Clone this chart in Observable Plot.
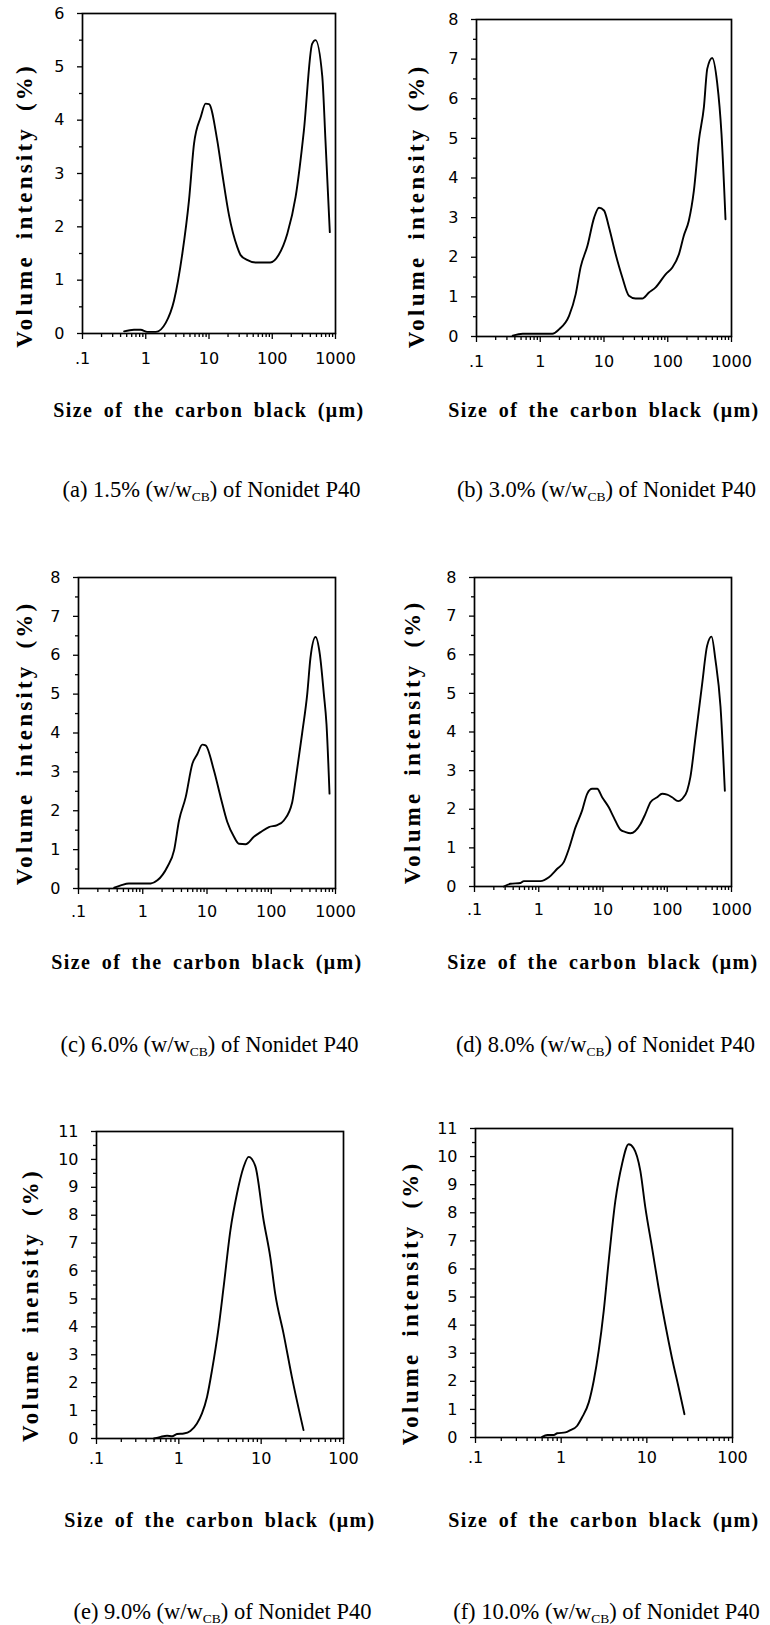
<!DOCTYPE html>
<html><head><meta charset="utf-8">
<script src="https://cdn.jsdelivr.net/npm/d3@7"></script>
<script src="https://cdn.jsdelivr.net/npm/@observablehq/plot@0.6"></script>
<style>
body{margin:0;background:#fff;}
#root{position:relative;width:770px;height:1625px;background:#fff;overflow:hidden}
.panel{position:absolute;overflow:visible}
.cap{position:absolute;font-family:"Liberation Serif","Times New Roman",serif;font-size:22.5px;color:#000;white-space:nowrap;transform:translate(-50%,-50%);line-height:1}
.cap sub{font-size:0.6em;vertical-align:baseline;position:relative;top:0.28em}
</style></head><body><div id="root"></div>
<script>
// ---------- data ----------
const xTicks3 = [0.1, 1, 10, 100, 1000];
const xTickLabels3 = [".1", "1", "10", "100", "1000"];
const xTicks2 = [0.1, 1, 10, 100];
const xTickLabels2 = [".1", "1", "10", "100"];

const sizeA = [0.455,0.65,0.83,1.06,1.44,2.07,2.8,3.79,4.83,5.8,7.4,8.85,10,13.5,16.2,20.7,28,31.6,40,54.6,93,126,173,234,316,427,483,617,694,813];
const intensityA = [0.04,0.07,0.07,0.03,0.03,0.2,0.62,1.5,2.5,3.56,4.06,4.31,4.3,3.62,3.0,2.22,1.62,1.47,1.38,1.33,1.33,1.47,1.87,2.56,3.8,5.43,5.5,4.83,3.62,1.9];

const sizeB = [0.37,0.53,1.55,1.97,2.83,3.6,4.3,5.5,7.0,8.35,10,12,15.2,19.4,24.6,31.3,39.8,50.7,64.6,92.5,118,150,179,214,257,308,369,417,498,596,697,805];
const intensityB = [0.02,0.07,0.07,0.18,0.52,1.07,1.75,2.29,3.0,3.25,3.18,2.75,2.08,1.49,1.03,0.96,0.96,1.11,1.24,1.57,1.74,2.08,2.55,2.92,3.68,4.95,5.79,6.76,7.03,6.4,5.11,2.96];

const sizeC = [0.36,0.455,0.61,1.33,1.69,2.42,3.07,3.67,4.66,5.92,7.08,8.46,9.5,12.8,16.3,20.7,26.3,31.4,39.8,53.7,68.2,92,124,157,212,239,303,363,408,489,570,659,724,807];
const intensityC = [0.02,0.08,0.13,0.13,0.21,0.56,0.98,1.75,2.35,3.21,3.46,3.7,3.68,3.04,2.35,1.71,1.33,1.15,1.14,1.33,1.45,1.58,1.63,1.75,2.22,2.78,4.0,5.0,5.94,6.47,6.03,5.0,4.23,2.44];

const sizeD = [0.286,0.363,0.52,0.586,1.06,1.44,1.94,2.45,2.94,3.73,4.74,5.67,6.78,8.1,9.7,12.3,14.7,18.7,22.4,26.8,38.4,45.7,54.8,69.6,83.3,99.7,119,148,171,204,229,275,349,417,489,563,674,788];
const intensityD = [0,0.07,0.09,0.14,0.14,0.24,0.46,0.63,0.97,1.53,1.97,2.4,2.53,2.53,2.31,2.05,1.79,1.47,1.41,1.38,1.62,1.88,2.18,2.31,2.4,2.38,2.31,2.21,2.27,2.48,2.83,3.86,5.24,6.23,6.47,5.86,4.66,2.48];

const sizeE = [0.5,0.6,0.72,0.83,0.95,1.15,1.38,1.66,1.91,2.2,2.53,3.05,3.5,4.23,5.08,6.12,7.05,8.49,10.7,12.9,14.8,18.7,23.6,32.7];
const intensityE = [0,0.06,0.1,0.08,0.16,0.18,0.27,0.54,0.9,1.49,2.45,4.0,5.43,7.46,8.77,9.73,10.09,9.76,7.82,6.5,5.19,3.76,2.21,0.3];

const sizeF = [0.6,0.69,0.82,0.9,1.12,1.28,1.53,1.75,2.1,2.4,2.74,3.14,3.59,4.29,5.13,6.13,7.02,8.4,9.6,11.5,13.7,16.4,19.6,23.5,27.5];
const intensityF = [0.02,0.09,0.09,0.15,0.18,0.26,0.41,0.71,1.25,2.02,3.08,4.51,6.29,8.42,9.73,10.44,10.3,9.49,8.19,6.76,5.34,4.03,2.85,1.78,0.83];

const xTitle = "Size of the carbon black (\u03bcm)";
const yTitles = ["Volume intensity (%)", "Volume intensity (%)", "Volume intensity (%)", "Volume intensity (%)", "Volume inensity (%)", "Volume intensity (%)"];
const captionLetters = ["(a)", "(b)", "(c)", "(d)", "(e)", "(f)"];
const captionPercents = ["1.5%", "3.0%", "6.0%", "8.0%", "9.0%", "10.0%"];
const yMaxes = [6, 8, 8, 8, 11, 11];

// ---------- layout ----------
const panels = [
  {x: sizeA, y: intensityA, ticks: xTicks3, labels: xTickLabels3, left: 0,   svgTop: 0,    frame: {l: 82,  r: 335, t: 13,   b: 333},  titleY: 410,  capY: 490,  yTitleX: 24,  yTitleDy: 32, labPad: 13},
  {x: sizeB, y: intensityB, ticks: xTicks3, labels: xTickLabels3, left: 385, svgTop: 0,    frame: {l: 476, r: 731, t: 19,   b: 336},  titleY: 410,  capY: 490,  yTitleX: 416, yTitleDy: 28, labPad: 13},
  {x: sizeC, y: intensityC, ticks: xTicks3, labels: xTickLabels3, left: 0,   svgTop: 520,  frame: {l: 78,  r: 335, t: 577,  b: 888},  titleY: 962,  capY: 1045, yTitleX: 24,  yTitleDy: 10, labPad: 11},
  {x: sizeD, y: intensityD, ticks: xTicks3, labels: xTickLabels3, left: 385, svgTop: 520,  frame: {l: 474, r: 731, t: 577,  b: 886},  titleY: 962,  capY: 1045, yTitleX: 412, yTitleDy: 10, labPad: 11},
  {x: sizeE, y: intensityE, ticks: xTicks2, labels: xTickLabels2, left: 0,   svgTop: 1060, frame: {l: 96,  r: 343, t: 1131, b: 1438}, titleY: 1520, capY: 1612, yTitleX: 30,  yTitleDy: 20, labPad: 8},
  {x: sizeF, y: intensityF, ticks: xTicks2, labels: xTickLabels2, left: 385, svgTop: 1060, frame: {l: 475, r: 732, t: 1128, b: 1437}, titleY: 1520, capY: 1612, yTitleX: 410, yTitleDy: 20, labPad: 8}
];

const root = document.getElementById("root");

panels.forEach((p, i) => {
  const W = 385;
  const height = p.titleY + 18 - p.svgTop;
  const marginLeft = p.frame.l - p.left;
  const marginRight = W - (p.frame.r - p.left);
  const marginTop = p.frame.t - p.svgTop;
  const marginBottom = height - (p.frame.b - p.svgTop);
  const data = p.x.map((v, k) => ({size: v, val: p.y[k]}));
  const yMax = yMaxes[i];
  const yMajor = d3.range(0, yMax + 0.001, 1);
  const yMinor = d3.range(0.5, yMax, 1);
  const xMinor = [];
  for (let k = 0; k < p.ticks.length - 1; k++) for (let m = 2; m <= 9; m++) xMinor.push(p.ticks[k] * m);
  const labelMap = new Map(p.ticks.map((t, k) => [t, p.labels[k]]));
  const chart = Plot.plot({
    width: W, height, marginLeft, marginRight, marginTop, marginBottom,
    style: {fontFamily: "'DejaVu Sans', sans-serif", fontSize: "16px", color: "#000", background: "transparent", overflow: "visible"},
    x: {type: "log", domain: [p.ticks[0], p.ticks[p.ticks.length - 1]]},
    y: {domain: [0, yMax]},
    marks: [
      Plot.axisY(yMinor, {tickSize: 3, tickFormat: () => "", label: null, strokeWidth: 1.3}),
      Plot.axisY(yMajor, {tickSize: 5, tickPadding: 13, tickFormat: d => String(d), label: null, strokeWidth: 1.3, fontSize: 16}),
      Plot.axisX(xMinor, {tickSize: 4, tickFormat: () => "", label: null, strokeWidth: 1.3}),
      Plot.axisX(p.ticks, {tickSize: 6, tickPadding: p.labPad, tickFormat: d => labelMap.get(d), label: null, strokeWidth: 1.3, fontSize: 16}),
      Plot.frame({stroke: "#000", strokeWidth: 1.7}),
      Plot.line(data, {x: "size", y: "val", stroke: "#000", strokeWidth: 1.9, curve: "monotone-x"}),
      Plot.text([xTitle], {frameAnchor: "bottom", lineAnchor: "middle", textAnchor: "middle", dy: p.titleY - p.frame.b, fontFamily: "'Liberation Serif', serif", fontWeight: "bold", fontSize: 20, fill: "#000"}),
      Plot.text([yTitles[i]], {frameAnchor: "left", lineAnchor: "middle", textAnchor: "middle", rotate: -90, dx: -(p.frame.l - p.yTitleX), dy: p.yTitleDy, fontFamily: "'Liberation Serif', serif", fontWeight: "bold", fontSize: 23, fill: "#000"})
    ]
  });
  chart.classList.add("panel");
  chart.style.left = p.left + "px";
  chart.style.top = p.svgTop + "px";
  chart.querySelectorAll("text").forEach(t => {
    const s = t.textContent;
    if (s.startsWith("Size")) { t.style.letterSpacing = "1.4px"; t.style.wordSpacing = "4px"; }
    else if (s.startsWith("Volume")) { t.style.letterSpacing = "3.2px"; t.style.wordSpacing = "6px"; }
  });
  root.appendChild(chart);

  const cap = document.createElement("div");
  cap.className = "cap";
  cap.innerHTML = `${captionLetters[i]} ${captionPercents[i]} (w/w<sub>CB</sub>) of Nonidet P40`;
  cap.style.left = ((p.frame.l + p.frame.r) / 2 + 3) + "px";
  cap.style.top = p.capY + "px";
  root.appendChild(cap);
});
</script></body></html>
